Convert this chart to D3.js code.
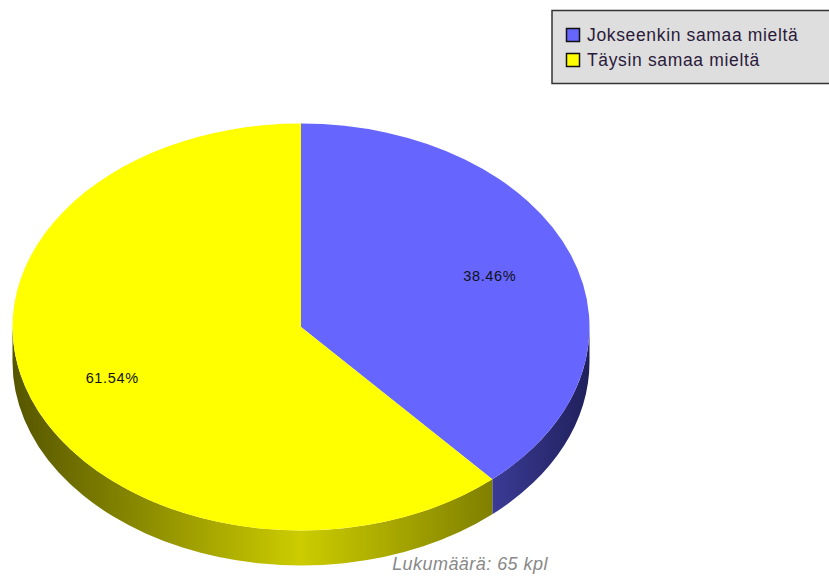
<!DOCTYPE html>
<html>
<head>
<meta charset="utf-8">
<script src="https://cdn.jsdelivr.net/npm/d3@7"></script>
<style>
  html, body { margin: 0; padding: 0; background: #fff; }
  svg { display: block; }
  text { font-family: "Liberation Sans", Arial, sans-serif; }
</style>
</head>
<body>
<svg id="chart" width="829" height="576"></svg>
<script>
const categories = ["Jokseenkin samaa mieltä", "Täysin samaa mieltä"];
const counts = [25, 40];
const colors = ["#6666ff", "#ffff00"];
const footerText = "Lukumäärä: 65 kpl";

const cx = 301, cy = 327, rx = 288.5, ry = 203.5, depth = 35;
const total = d3.sum(counts);

const svg = d3.select("#chart");
const defs = svg.append("defs");

// Shaded side-wall gradients, running horizontally across the pie
defs.append("linearGradient").attr("id", "wall0")
  .attr("gradientUnits", "userSpaceOnUse")
  .attr("x1", 492).attr("x2", 589)
  .selectAll("stop").data([
    { o: 0, c: "#3b3b96" }, { o: 1, c: "#20205c" }
  ]).join("stop")
  .attr("offset", d => d.o).attr("stop-color", d => d.c);
defs.append("linearGradient").attr("id", "wall1")
  .attr("gradientUnits", "userSpaceOnUse")
  .attr("x1", 12).attr("x2", 492)
  .selectAll("stop").data([
    { o: 0, c: "#555500" }, { o: 0.6, c: "#cccc00" }, { o: 1, c: "#808000" }
  ]).join("stop")
  .attr("offset", d => d.o).attr("stop-color", d => d.c);

const pie = d3.pie().sort(null).value(d => d).startAngle(0).endAngle(2 * Math.PI);
const slices = pie(counts);

const px = a => cx + rx * Math.sin(a);
const py = a => cy - ry * Math.cos(a);

// Only the lower half of the rim is visible
function wallPath(d) {
  const a0 = Math.max(d.startAngle, Math.PI / 2);
  const a1 = Math.min(d.endAngle, 3 * Math.PI / 2);
  return `M${px(a0)},${py(a0)}` +
    `A${rx},${ry} 0 0 1 ${px(a1)},${py(a1)}` +
    `L${px(a1)},${py(a1) + depth}` +
    `A${rx},${ry} 0 0 0 ${px(a0)},${py(a0) + depth}Z`;
}

svg.append("g").selectAll("path").data(slices).join("path")
  .attr("d", wallPath)
  .attr("fill", (d, i) => `url(#wall${i})`);

// Top face: a circular pie squashed into an ellipse
const arc = d3.arc().innerRadius(0).outerRadius(rx);
svg.append("g")
  .attr("transform", `translate(${cx},${cy}) scale(1,${ry / rx})`)
  .selectAll("path").data(slices).join("path")
  .attr("d", arc)
  .attr("fill", (d, i) => colors[i]);

// Percentage labels sit at 70% of the radius along each slice's mid-angle
const fmt = d3.format(".2f");
const labelRatio = 0.7;
svg.append("g").selectAll("text").data(slices).join("text")
  .attr("x", d => px((d.startAngle + d.endAngle) / 2) * labelRatio + cx * (1 - labelRatio))
  .attr("y", d => py((d.startAngle + d.endAngle) / 2) * labelRatio + cy * (1 - labelRatio) + 5)
  .attr("text-anchor", "middle")
  .attr("font-size", 14.5)
  .attr("letter-spacing", 0.65)
  .attr("fill", "#111")
  .text(d => fmt(d.value / total * 100) + "%");

// Legend box runs off the right-hand edge
const legend = svg.append("g");
legend.append("rect")
  .attr("x", 552).attr("y", 10.5).attr("width", 300).attr("height", 73)
  .attr("fill", "#dedede").attr("stroke", "#333").attr("stroke-width", 1.5);
const rows = legend.selectAll("g").data(categories).join("g")
  .attr("transform", (d, i) => `translate(566,${28 + i * 25})`);
rows.append("rect")
  .attr("x", 0.5).attr("y", 0.5).attr("width", 13).attr("height", 13)
  .attr("fill", (d, i) => colors[i]).attr("stroke", "#111").attr("stroke-width", 1.5);
rows.append("text")
  .attr("x", 21).attr("y", 12.5)
  .attr("font-size", 17.5)
  .attr("letter-spacing", 0.65)
  .attr("fill", "#2a1a3a")
  .text(d => d);

svg.append("text")
  .attr("x", 470).attr("y", 570)
  .attr("text-anchor", "middle")
  .attr("font-size", 18)
  .attr("letter-spacing", 0.45)
  .attr("font-style", "italic")
  .attr("fill", "#888")
  .text(footerText);
</script>
</body>
</html>
